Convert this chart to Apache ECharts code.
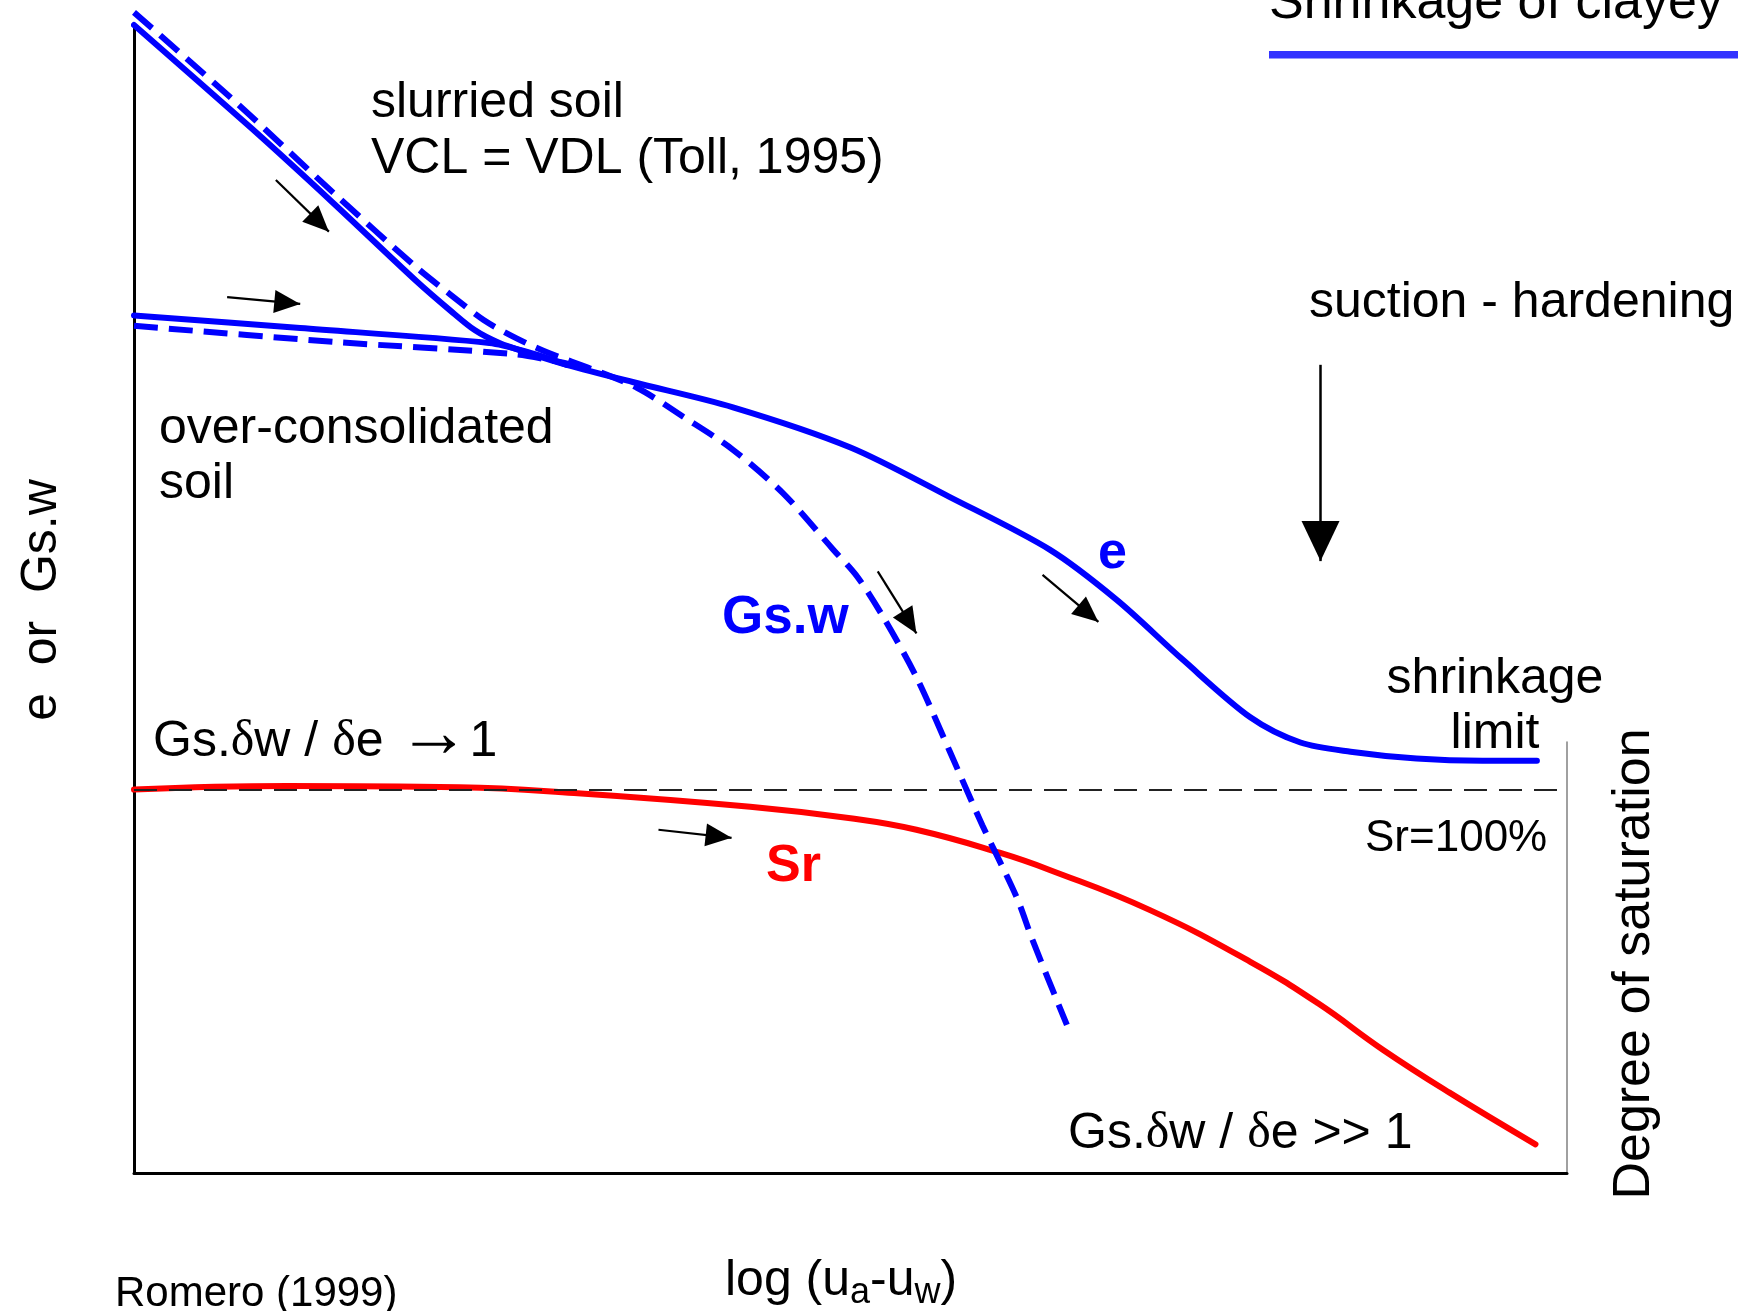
<!DOCTYPE html>
<html>
<head>
<meta charset="utf-8">
<title>Shrinkage of clayey soils</title>
<script src="https://cdn.jsdelivr.net/npm/echarts@6/dist/echarts.min.js"></script>
<style>
  html, body { margin: 0; padding: 0; background: #ffffff; }
  #chart { width: 1738px; height: 1311px; }
</style>
</head>
<body>
<div id="chart"></div>
<script>
// Axes are qualitative: x = log suction, y = e or Gs.w, both on a 0-100 scale.

// Void ratio e, slurried soil (VCL = VDL) down to the shrinkage limit
const eSlurried = [
  [0, 100], [8.2, 91.0], [13.9, 84.5], [19.7, 77.7], [22.1, 75.1], [23.8, 73.4],
  [25.5, 72.3], [27.6, 71.4], [30.2, 70.4], [34.8, 68.9], [41.8, 66.7],
  [50.0, 63.2], [56.9, 58.9], [63.9, 54.3], [68.6, 49.9], [73.2, 44.7], [77.9, 39.7],
  [81.4, 37.5], [84.9, 36.7], [89.5, 36.1], [94.1, 35.9], [97.9, 35.9]
];
// Void ratio e, over-consolidated branch joining the main curve
const eOverConsolidated = [
  [0, 74.7], [11.6, 73.6], [24.8, 72.3], [27.5, 71.5], [30.2, 70.4]
];
// Gs.w, slurried soil
const gswSlurried = [
  [0, 101.1], [6.9, 93.5], [13.9, 85.4], [19.7, 78.9], [22.1, 76.5], [24.4, 74.3],
  [26.7, 72.7], [29.0, 71.4], [31.8, 70.1], [35.1, 68.4], [38.3, 65.9], [41.8, 63.0],
  [45.3, 59.2], [48.8, 54.3], [50.5, 51.9], [52.3, 48.4], [54.6, 43.2], [56.9, 36.8],
  [59.2, 30.3], [61.6, 24.0], [62.7, 20.3], [65.1, 12.9]
];
// Gs.w, over-consolidated branch
const gswOverConsolidated = [
  [0, 73.8], [13.9, 72.4], [26.7, 71.3], [30.6, 70.4]
];
// Degree of saturation Sr
const srCurve = [
  [0, 33.4], [10.7, 33.7], [22.7, 33.6], [30.7, 33.1], [43.0, 31.9], [50.0, 30.9],
  [54.6, 29.9], [60.4, 27.9], [63.9, 26.4], [70.9, 22.9], [77.9, 18.4], [82.6, 14.8],
  [87.2, 10.7], [91.8, 7.0], [97.8, 2.5]
];
// Level of Sr = 100 %
const srFullLevel = 33.4;

// Direction arrows: [start, tip]
const smallArrows = [
  [[9.9, 86.5], [13.6, 82.0]],
  [[6.5, 76.3], [11.6, 75.7]],
  [[51.9, 52.4], [54.6, 47.0]],
  [[63.4, 52.1], [67.3, 48.0]],
  [[36.6, 29.9], [41.7, 29.2]]
];
const hardeningArrow = [[82.8, 70.4], [82.8, 53.3]];

const SANS = '"Liberation Sans", Arial, Helvetica, sans-serif';
const SERIF = '"Liberation Serif", "Times New Roman", serif';
const BLUE = '#0000ff';
const RED = '#ff0000';
const BASELINE_SHIFT = 0.26;

// place a text by its left/center point and alphabetic baseline
function label(text, x, baseline, size, opts) {
  opts = opts || {};
  const align = opts.align || 'left';
  const style = {
    text: text,
    font: (opts.bold ? 'bold ' : '') + size + 'px ' + SANS,
    fill: opts.color || '#000000',
    align: align, textAlign: align,
    verticalAlign: 'middle', textVerticalAlign: 'middle'
  };
  if (opts.rich) style.rich = opts.rich;
  return { type: 'text', x: x, y: baseline - BASELINE_SHIFT * size, style: style, z: 10 };
}

// vertical text read from bottom to top; x is the baseline position
function verticalLabel(text, baselineX, centerY, size) {
  return {
    type: 'text', x: baselineX - BASELINE_SHIFT * size, y: centerY, rotation: Math.PI / 2, z: 10,
    style: { text: text, font: size + 'px ' + SANS, fill: '#000000',
             align: 'center', textAlign: 'center', verticalAlign: 'middle', textVerticalAlign: 'middle' }
  };
}

function arrowLines(list, headSize) {
  return list.map(function (a) {
    return [
      { coord: a[0], symbol: 'none' },
      { coord: a[1], symbol: 'triangle', symbolSize: headSize }
    ];
  });
}

const ratioRich = {
  d: { fontFamily: SERIF, fontSize: 50 },
  a: { fontFamily: SERIF, fontSize: 72, padding: [0, 0, 10, 0] }
};

const chart = echarts.init(document.getElementById('chart'), null, { renderer: 'canvas' });

const hiddenParts = { axisTick: { show: false }, axisLabel: { show: false }, splitLine: { show: false } };

chart.setOption({
  animation: false,
  backgroundColor: '#ffffff',
  grid: [
    { left: 134, right: 171, top: 25, bottom: 138 },
    { left: 134, right: 171, top: 742, bottom: 138 }
  ],
  xAxis: [
    Object.assign({
      type: 'value', gridIndex: 0, min: 0, max: 100,
      axisLine: { show: true, onZero: false, lineStyle: { color: '#000000', width: 3 } }
    }, hiddenParts),
    { type: 'value', gridIndex: 1, min: 0, max: 1, show: false }
  ],
  yAxis: [
    Object.assign({
      type: 'value', gridIndex: 0, min: 0, max: 100,
      axisLine: { show: true, onZero: false, lineStyle: { color: '#000000', width: 3 } }
    }, hiddenParts),
    Object.assign({
      type: 'value', gridIndex: 1, min: 0, max: 1, position: 'right',
      axisLine: { show: true, onZero: false, lineStyle: { color: '#808080', width: 1.5 } }
    }, hiddenParts)
  ],
  series: [
    {
      name: 'Sr', type: 'line', data: srCurve, smooth: 0.45, showSymbol: false, clip: false,
      lineStyle: { color: RED, width: 6, cap: 'round', join: 'round' },
      markLine: {
        silent: true, symbol: ['none', 'none'], label: { show: false },
        lineStyle: { color: '#222222', width: 1.8, type: [23, 12] },
        data: [{ yAxis: srFullLevel }]
      }
    },
    {
      name: 'e (slurried)', type: 'line', data: eSlurried, smooth: 0.3, showSymbol: false, clip: false,
      lineStyle: { color: BLUE, width: 6, cap: 'round', join: 'round' },
      markLine: {
        silent: true, symbol: ['none', 'triangle'], symbolSize: [23, 26],
        symbolOffset: [0, [0, '50%']],
        label: { show: false },
        lineStyle: { color: '#000000', width: 2.2, type: 'solid' },
        data: arrowLines(smallArrows, [23, 26])
      }
    },
    {
      name: 'e (over-consolidated)', type: 'line', data: eOverConsolidated, smooth: 0.3, showSymbol: false, clip: false,
      lineStyle: { color: BLUE, width: 6, cap: 'round', join: 'round' }
    },
    {
      name: 'Gs.w (slurried)', type: 'line', data: gswSlurried, smooth: 0.3, showSymbol: false, clip: false,
      lineStyle: { color: BLUE, width: 6, type: [24, 11] }
    },
    {
      name: 'Gs.w (over-consolidated)', type: 'line', data: gswOverConsolidated, smooth: 0.3, showSymbol: false, clip: false,
      lineStyle: { color: BLUE, width: 6, type: [24, 11] },
      markLine: {
        silent: true, symbol: ['none', 'triangle'], symbolSize: [38, 40],
        symbolOffset: [0, [0, '50%']],
        label: { show: false },
        lineStyle: { color: '#000000', width: 2.5, type: 'solid' },
        data: arrowLines([hardeningArrow], [38, 40])
      }
    }
  ],
  graphic: [
    { type: 'rect', shape: { x: 1269, y: 51, width: 470, height: 7.5 }, style: { fill: '#3333ff' }, z: 10 },
    label('Shrinkage of clayey', 1269, 17, 52),
    label('slurried soil', 371, 116, 50),
    label('VCL = VDL (Toll, 1995)', 371, 172, 50),
    label('over-consolidated', 159, 442, 50),
    label('soil', 159, 497, 50),
    label('suction - hardening', 1309, 316, 50),
    label('shrinkage', 1495, 692, 50, { align: 'center' }),
    label('limit', 1495, 747, 50, { align: 'center' }),
    label('Sr=100%', 1365, 850, 44),
    label('Gs.{d|δ}w / {d|δ}e {a|→}1', 153, 755, 50, { rich: ratioRich }),
    label('Gs.{d|δ}w / {d|δ}e >> 1', 1068, 1147, 50, { rich: ratioRich }),
    label('e', 1098, 567, 52, { bold: true, color: BLUE }),
    label('Gs.w', 722, 632, 53, { bold: true, color: BLUE }),
    label('Sr', 766, 880, 52, { bold: true, color: RED }),
    label('{m|log (u}{s|a}{m|-u}{s|w}{m|)}', 725, 1294, 50, {
      rich: {
        m: { fontSize: 50, fontFamily: SANS, lineHeight: 60 },
        s: { fontSize: 36, fontFamily: SANS, lineHeight: 30, verticalAlign: 'bottom' }
      }
    }),
    label('Romero (1999)', 115, 1305, 42),
    verticalLabel('e  or  Gs.w', 55, 600, 50),
    verticalLabel('Degree of saturation', 1648, 964, 52)
  ]
});
</script>
</body>
</html>
